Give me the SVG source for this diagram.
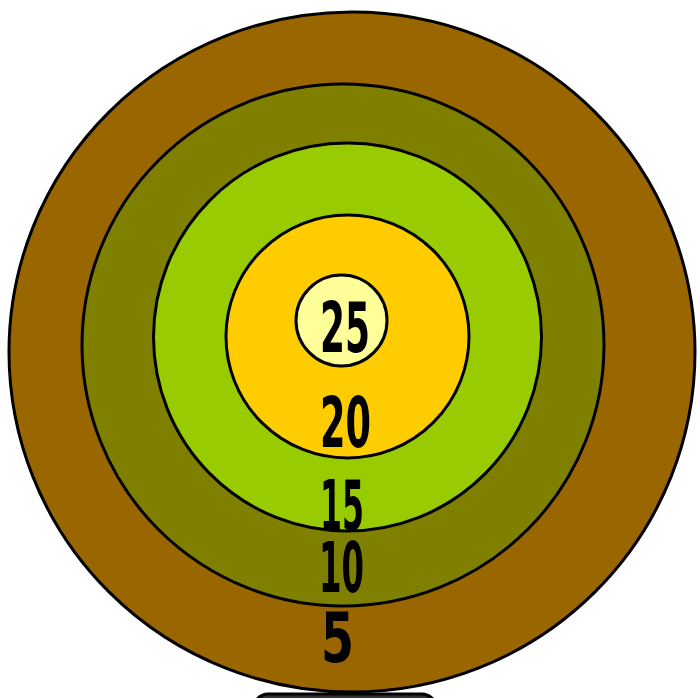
<svg xmlns="http://www.w3.org/2000/svg" width="700" height="698" viewBox="0 0 700 698">
<style>
.ring{stroke:#000;stroke-width:3}
.lbl{font-family:"Liberation Sans Narrow","DejaVu Sans Condensed","Liberation Sans",sans-serif;font-weight:bold;font-size:70px;fill:#000;text-anchor:middle}
</style>
<rect width="700" height="698" fill="#fff"/>
<g id="base"><rect x="254" y="694" width="182" height="40" rx="14" fill="#333" class="ring"/></g>
<g id="ring5"><ellipse cx="352" cy="352" rx="343" ry="340" fill="#996600" class="ring"/></g>
<g id="ring10"><circle cx="343" cy="345" r="261" fill="#808000" class="ring"/></g>
<g id="ring15"><circle cx="347.5" cy="337" r="194" fill="#99CC00" class="ring"/></g>
<g id="ring20"><circle cx="347.5" cy="336.5" r="121.5" fill="#FFCC00" class="ring"/></g>
<g id="ring25"><circle cx="341.5" cy="320.5" r="45.5" fill="#FFFF99" class="ring"/></g>
<g id="labels">
<text class="lbl" x="345" y="352" textLength="50" lengthAdjust="spacingAndGlyphs">25</text>
<text class="lbl" x="345.5" y="447" textLength="51" lengthAdjust="spacingAndGlyphs">20</text>
<text class="lbl" x="342" y="530" textLength="44" lengthAdjust="spacingAndGlyphs">15</text>
<text class="lbl" x="341.5" y="592" textLength="45" lengthAdjust="spacingAndGlyphs">10</text>
<text class="lbl" x="337.5" y="662" textLength="33" lengthAdjust="spacingAndGlyphs">5</text>
</g>
</svg>
